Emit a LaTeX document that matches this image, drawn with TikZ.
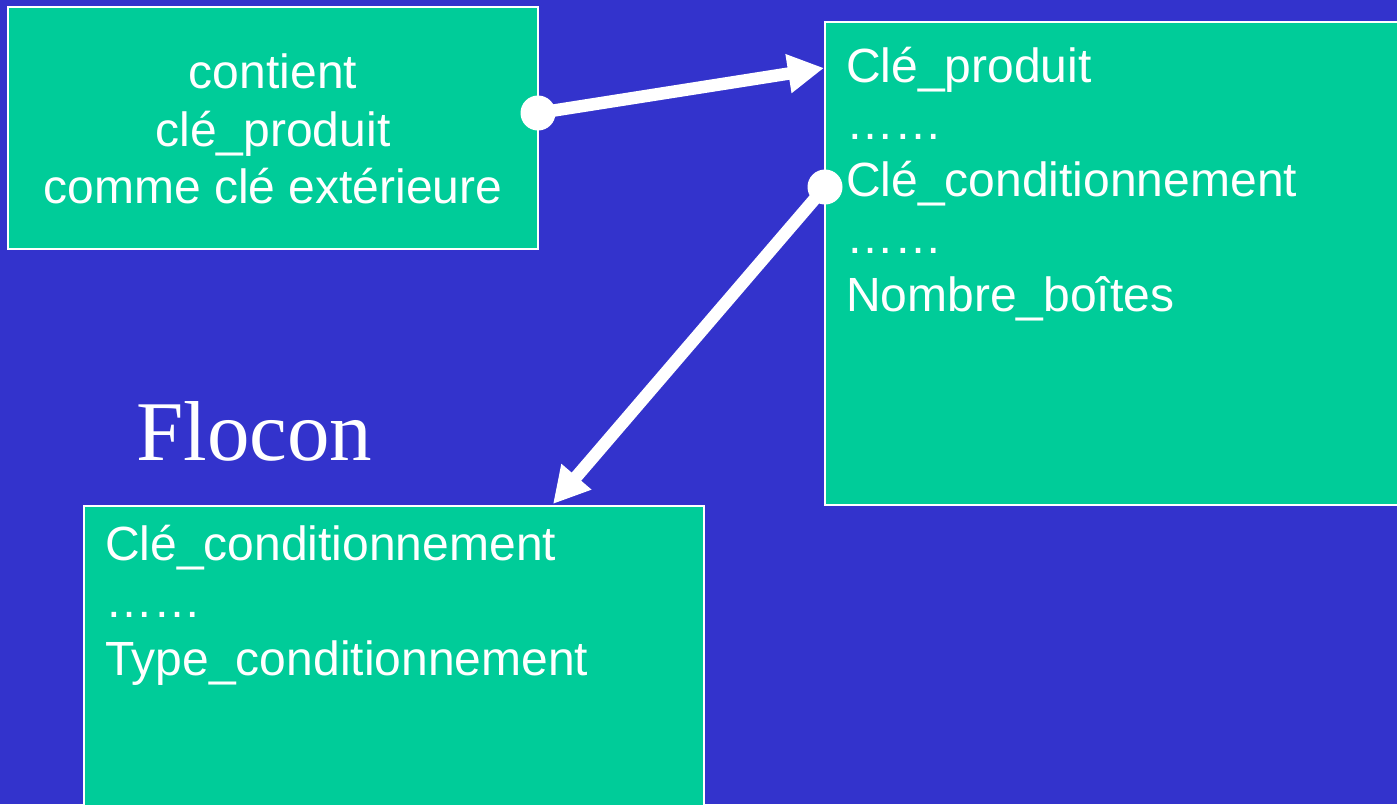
\documentclass[tikz,border=0pt]{standalone}
\usepackage{fontspec}
\setmainfont{Liberation Sans}
\newfontfamily\titleface{Liberation Serif}
\usetikzlibrary{arrows.meta}
\definecolor{slidebg}{HTML}{3333CC}
\definecolor{tablefill}{HTML}{00CC99}
\begin{document}
\begin{tikzpicture}[x=1pt,y=-1pt,
  tablebox/.style={draw=white, line width=2pt, fill=tablefill, inner sep=0pt, rectangle},
  field/.style={text=white, inner sep=0pt, font=\fontsize{48}{57}\selectfont},
  keydot/.style={circle, fill=white, minimum size=35pt, inner sep=0pt},
  link/.style={draw=white, line width=12.5pt, -{Triangle[length=36pt,width=37pt]}}]
  % slide background
  \fill[slidebg] (0,0) rectangle (1397,804);
  \useasboundingbox (0,0) rectangle (1397,804);
  \begin{scope}
    \clip (0,0) rectangle (1397,804);
    % the three tables
    \node[tablebox, minimum width=530pt, minimum height=242pt] (note) at (273,128) {};
    \node[tablebox, minimum width=595pt, minimum height=483pt] (fact) at (1122.5,263.5) {};
    \node[tablebox, minimum width=620pt, minimum height=324pt] (pack) at (394,668) {};
  \end{scope}
  % note box text
  \node[field, anchor=base] (n1) at (273,88) {contient};
  \node[field, anchor=base] (n2) at (273,146) {clé\_produit};
  \node[field, anchor=base] (n3) at (273,203) {comme clé extérieure};
  % fact table fields
  \node[field, anchor=base west] (f1) at (846,82) {Clé\_produit};
  \node[field, anchor=base west] (f2) at (846,139) {……};
  \node[field, anchor=base west] (f3) at (846,196) {Clé\_conditionnement};
  \node[field, anchor=base west] (f4) at (846,253) {……};
  \node[field, anchor=base west] (f5) at (846,311) {Nombre\_boîtes};
  % packaging dimension fields
  \node[field, anchor=base west] (p1) at (105,560) {Clé\_conditionnement};
  \node[field, anchor=base west] (p2) at (105,617) {……};
  \node[field, anchor=base west] (p3) at (105,675) {Type\_conditionnement};
  % title
  \node[text=white, inner sep=0pt, anchor=base west, font=\titleface\fontsize{85}{100}\selectfont] (title) at (136,460) {Flocon};
  % key links
  \node[keydot] (d1) at (538,113) {};
  \node[keydot] (d2) at (825,187) {};
  \coordinate (t1) at (824,68);
  \coordinate (t2) at (553,504);
  \draw[link] (d1.center) -- (t1);
  \draw[link] (d2.center) -- (t2);
\end{tikzpicture}
\end{document}
